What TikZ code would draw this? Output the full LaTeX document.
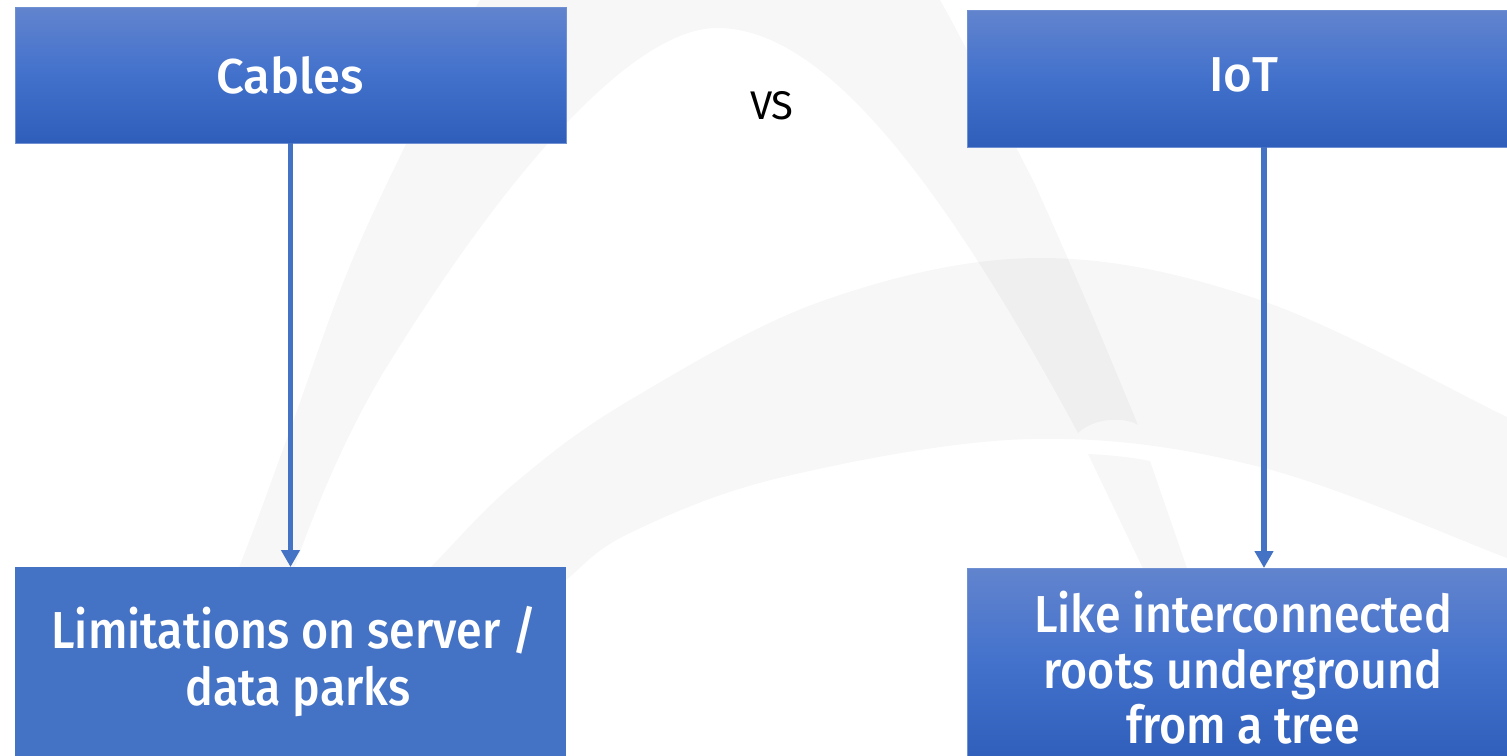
\documentclass[tikz,border=0pt]{standalone}
\usepackage{fontspec}
\setmainfont{Fira Sans}
\newfontfamily\medfont{Fira Sans Medium}
\newfontfamily\narfont{Fira Sans Medium}[FakeStretch=0.895]
\usetikzlibrary{arrows.meta}
\definecolor{boxblue}{RGB}{68,114,196}
\definecolor{gtop}{RGB}{98,132,206}
\definecolor{gmid}{RGB}{66,113,204}
\definecolor{gbot}{RGB}{47,94,186}
\definecolor{gline}{RGB}{112,144,212}
\tikzset{
  gradbox/.style={rectangle, inner sep=0pt, outer sep=0pt, anchor=north west,
    top color=gtop, bottom color=gbot, middle color=gmid, draw=gline, line width=1pt},
  flatbox/.style={rectangle, inner sep=0pt, outer sep=0pt, anchor=north west,
    fill=boxblue},
  boxtxt/.style={inner sep=0pt, anchor=base, text=white, font=\narfont\fontsize{52}{57}\selectfont},
  toptxt/.style={boxtxt, font=\medfont\fontsize{49}{55}\selectfont},
  vstxt/.style={inner sep=0pt, anchor=base, text=black, font=\fontsize{40}{44}\selectfont},
  arr/.style={draw=boxblue, line width=5.5pt, -{Triangle[width=18pt,length=17pt]}},
  swoosh/.style={fill=black, fill opacity=0.03}
}
\begin{document}
\begin{tikzpicture}[x=1pt,y=-1pt]
\useasboundingbox (0,0) rectangle (1507,755);
\begin{scope}
\clip (0,0) rectangle (1507,755);
\fill[white] (0,0) rectangle (1507,755);
% big arch
\fill[swoosh] plot[smooth, tension=0.6] coordinates {(160,760) (238,570) (290,430) (347,273) (408,140) (480,0) (570,-120) (700,-190) (820,-150) (885,-80) (940,0) (1020,155) (1042,200) (1090,310) (1138,425)}
  .. controls (1125,417) and (1095,417) .. (1078,433)
  .. controls (920,140) and (810,28) .. (717,28)
  .. controls (640,28) and (520,150) .. (383,373)
  .. controls (340,445) and (305,530) .. (270,640) -- (215,760) -- cycle;
% lower piece of right limb
\fill[swoosh] (1088,454) .. controls (1110,455) and (1130,457) .. (1150,461) -- (1198,600) -- (1158,600) -- cycle;
% second arch
\fill[swoosh] plot[smooth, tension=0.6] coordinates {(380,620) (431,567) (515,483) (630,400) (825,300) (1040,258) (1260,300) (1507,417) (1530,428)}
  -- plot[smooth, tension=0.6] coordinates {(1530,567) (1507,558) (1260,467) (1032,439) (783,477) (630,533) (566,580) (520,620)} -- cycle;
% boxes
\node[gradbox, minimum width=551pt, minimum height=136pt] (cables) at (15,7) {};
\node[gradbox, minimum width=550pt, minimum height=137pt] (iot) at (967,10) {};
\node[flatbox, minimum width=551pt, minimum height=195pt] (limits) at (15,567) {};
\node[gradbox, minimum width=550pt, minimum height=195pt] (roots) at (967,568) {};
\end{scope}
\coordinate (ax) at (1264,0);
\draw[arr] (cables.south) -- (limits.north);
\draw[arr] (iot.south -| ax) -- (roots.north -| ax);
% texts
\node[toptxt] (tc) at (290,93) {Cables};
\node[toptxt] (ti) at (1244,91) {IoT};
\node[vstxt] (vs) at (772,119) {VS};
\node[boxtxt] (l1) at (294,648) {Limitations on server /};
\node[boxtxt] (l2) at (298,705) {data parks};
\node[boxtxt] (r1) at (1243,632) {Like interconnected};
\node[boxtxt] (r2) at (1243,688) {roots underground};
\node[boxtxt] (r3) at (1243,743) {from a tree};
\end{tikzpicture}
\end{document}
